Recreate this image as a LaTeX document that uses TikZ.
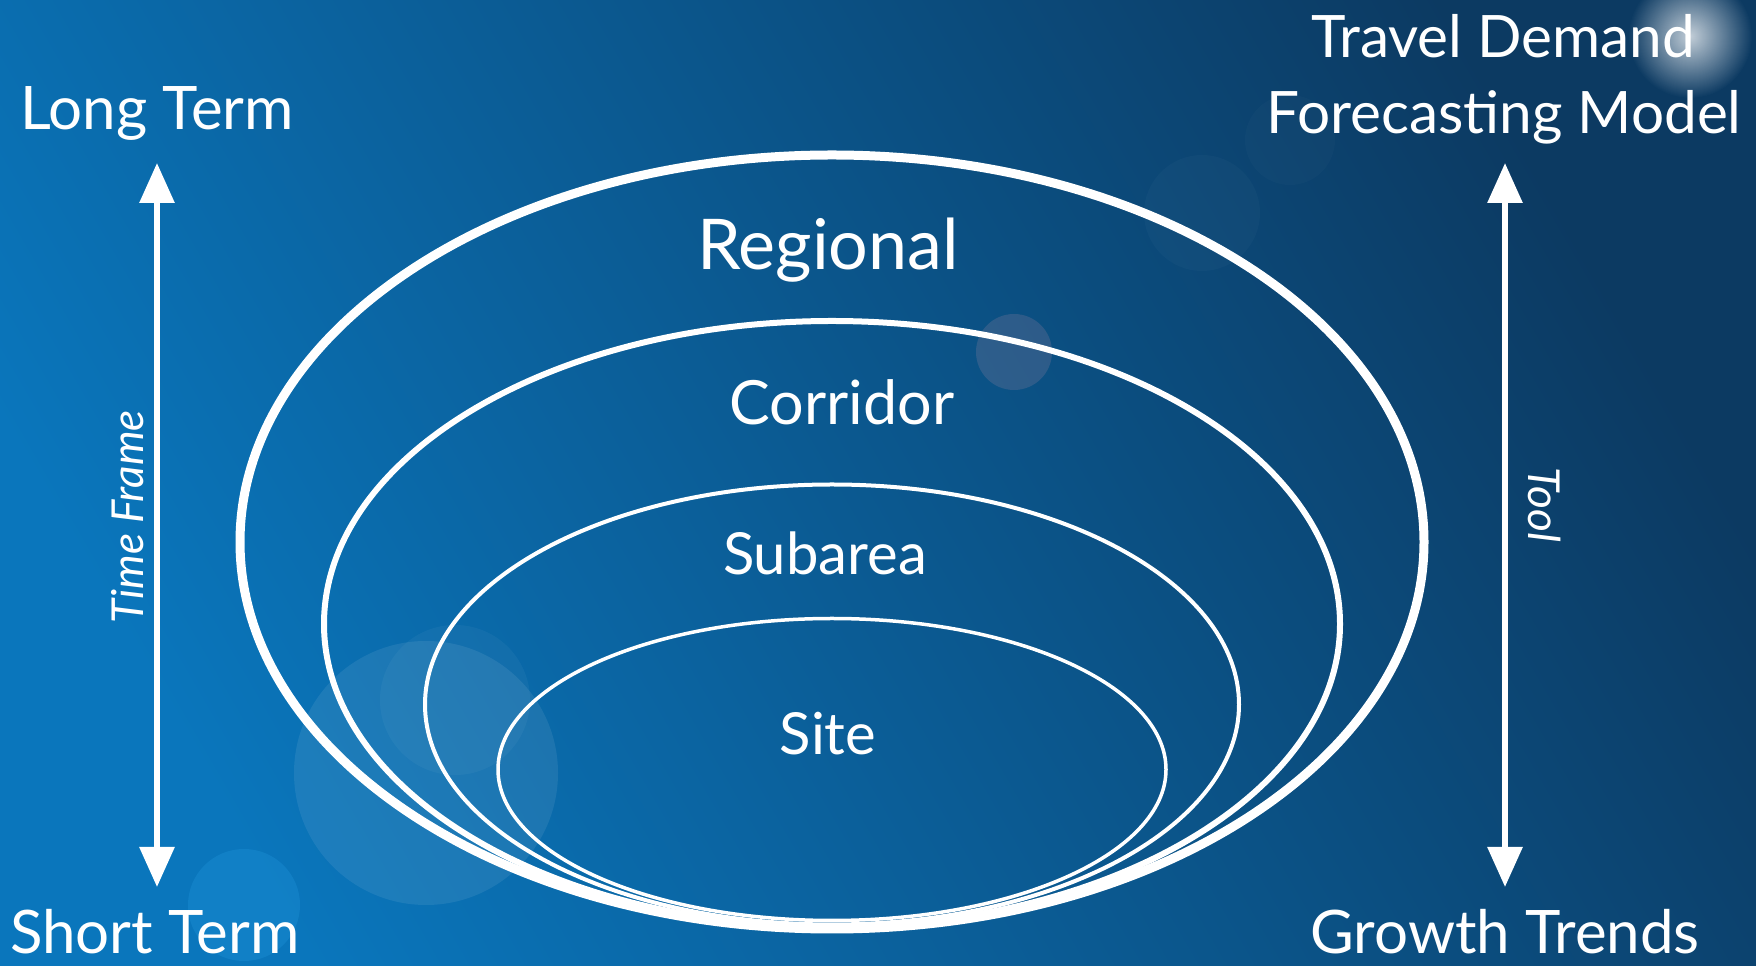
\documentclass[tikz,border=0pt]{standalone}
\usepackage{fontspec}
\setmainfont{Lato}
\usepackage{tikz}
\definecolor{bglight}{RGB}{10,118,188}
\definecolor{bgdark}{RGB}{12,58,98}
\definecolor{bokehcyan}{RGB}{40,160,228}
\definecolor{bokehpink}{RGB}{200,150,170}
\usetikzlibrary{
	arrows.meta,
	fadings
}
\tikzfading[name=glowfade, inner color=transparent!0, outer color=transparent!100]
\tikzset{
	x=1pt, y=1pt,
	timearrow/.style={{Triangle[width=34pt,length=40pt]}-{Triangle[width=34pt,length=40pt]}, draw=white, line width=6pt},
	ringline/.style={draw=white},
	endnode/.style={text=white, inner sep=0pt, font=\fontsize{60}{64}\selectfont},
	ringnode/.style={text=white, inner sep=0pt, anchor=base},
	sidenode/.style={text=white, inner sep=0pt, anchor=base, font=\fontsize{44}{48}\selectfont\itshape},
	bokeh/.style={fill=white, opacity=0.08}
}
\begin{document}
\begin{tikzpicture}
	\useasboundingbox (0,0) rectangle (1756,966);
	% background
	\shade[shading=axis, top color=bgdark, bottom color=bglight, shading angle=-60] (0,0) rectangle (1756,966);
	\fill[bokeh] (426,193) circle (132);
	\fill[bokeh, opacity=0.04] (455,266) circle (75);
	\fill[bokehcyan, opacity=0.25] (244,61) circle (56);
	\fill[bokehpink, opacity=0.18] (1014,614) circle (38);
	\fill[bokeh, opacity=0.025] (1202,753) circle (58);
	\fill[bokeh, opacity=0.02] (1290,826) circle (45);
	\fill[white, path fading=glowfade, opacity=0.75] (1690,930) circle (62);

	% nested scales
	\foreach \cy/\rx/\ry/\lw in {424/592/387/9, 342/508/303/6, 261.5/407/220/4, 196.5/334/151/3.5} {
		\draw[ringline, line width=\lw pt] (832,\cy) ellipse [x radius=\rx, y radius=\ry];
	}
	\node[ringnode, font=\fontsize{70}{74}\selectfont] (regional) at (828,696) {Regional};
	\node[ringnode, font=\fontsize{61}{65}\selectfont] (corridor) at (842,541) {Corridor};
	\foreach \name/\x/\y/\label in {subarea/825/391/Subarea, site/828/211/Site} {
		\node[ringnode, font=\fontsize{58}{62}\selectfont] (\name) at (\x,\y) {\label};
	}

	% time frame
	\node[endnode, anchor=base] (longterm) at (157,836) {Long Term};
	\node[endnode, anchor=base] (shortterm) at (155,12) {Short Term};
	\coordinate (tftop) at (157,803);
	\coordinate (tfbottom) at (157,79);
	\draw[timearrow] (tftop) -- (tfbottom);
	\node[sidenode, rotate=90] (timeframe) at (143,449) {Time Frame};

	% tool
	\node[endnode, anchor=base, font=\fontsize{58.5}{62}\selectfont] (travel) at (1503,908) {Travel Demand};
	\node[endnode, anchor=base, font=\fontsize{58.5}{62}\selectfont] (forecast) at (1504,832) {Forecasting Model};
	\node[endnode, anchor=base] (growth) at (1505,12) {Growth Trends};
	\coordinate (tooltop) at (1505,803);
	\coordinate (toolbottom) at (1505,79);
	\draw[timearrow] (tooltop) -- (toolbottom);
	\node[sidenode, rotate=-90] (tool) at (1528,461) {Tool};
\end{tikzpicture}
\end{document}
